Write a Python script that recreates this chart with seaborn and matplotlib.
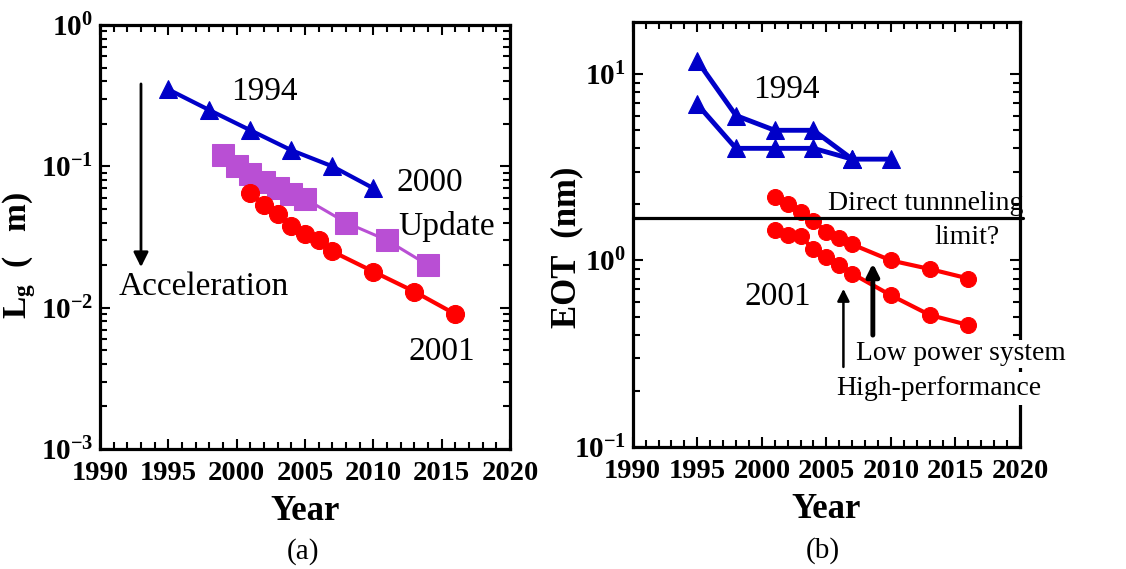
import matplotlib
matplotlib.use("Agg")
import matplotlib.pyplot as plt
from matplotlib.ticker import MultipleLocator, LogLocator, NullFormatter, FixedLocator, FixedFormatter
import seaborn as sns

# ---- (a) gate length roadmaps ----
years_lg_1994 = [1995, 1998, 2001, 2004, 2007, 2010]
lg_1994 = [0.35, 0.25, 0.18, 0.13, 0.10, 0.07]

years_lg_2000 = [1999, 2000, 2001, 2002, 2003, 2004, 2005, 2008, 2011, 2014]
lg_2000 = [0.12, 0.10, 0.088, 0.078, 0.070, 0.064, 0.059, 0.040, 0.030, 0.020]

years_lg_2001 = [2001, 2002, 2003, 2004, 2005, 2006, 2007, 2010, 2013, 2016]
lg_2001 = [0.065, 0.053, 0.046, 0.038, 0.033, 0.030, 0.025, 0.018, 0.013, 0.009]

# ---- (b) equivalent oxide thickness roadmaps ----
years_eot_1994_a = [1995, 1998, 2001, 2004, 2007, 2010]
eot_1994_a = [11.8, 6.0, 5.0, 5.0, 3.5, 3.5]
years_eot_1994_b = [1995, 1998, 2001, 2004, 2007]
eot_1994_b = [6.9, 4.0, 4.0, 4.0, 3.5]

years_eot_2001 = [2001, 2002, 2003, 2004, 2005, 2006, 2007, 2010, 2013, 2016]
eot_2001_lowpower = [2.2, 2.0, 1.83, 1.63, 1.43, 1.32, 1.22, 1.0, 0.9, 0.8]
eot_2001_highperf = [1.45, 1.37, 1.35, 1.15, 1.05, 0.95, 0.85, 0.65, 0.51, 0.45]

tunneling_limit = 1.7

year_ticks = [1990, 1995, 2000, 2005, 2010, 2015, 2020]

BLUE = "#0000C8"
PURPLE = "#B94FD4"
RED = "#FF0000"

sns.set_style("ticks")
plt.rcParams["font.family"] = ["Liberation Serif", "DejaVu Serif"]
plt.rcParams["mathtext.fontset"] = "custom"
plt.rcParams["mathtext.rm"] = "Liberation Serif"
plt.rcParams["mathtext.bf"] = "Liberation Serif:bold"
plt.rcParams["mathtext.it"] = "Liberation Serif:italic"
for key in ("text.color", "axes.labelcolor", "xtick.color", "ytick.color",
            "axes.edgecolor"):
    plt.rcParams[key] = "black"

fig = plt.figure(figsize=(11.26, 5.69), dpi=100)
ax_a = fig.add_axes([0.0888, 0.2109, 0.3641, 0.7452])
ax_b = fig.add_axes([0.5619, 0.2149, 0.3440, 0.7459])


def style_axes(ax, ylim, ydecades):
    ax.set_xlim(1990, 2020)
    ax.set_yscale("log")
    ax.set_ylim(*ylim)
    ax.xaxis.set_major_locator(FixedLocator(year_ticks))
    ax.xaxis.set_major_formatter(FixedFormatter([str(y) for y in year_ticks]))
    ax.xaxis.set_minor_locator(MultipleLocator(1))
    ax.yaxis.set_major_locator(FixedLocator([10.0 ** d for d in ydecades]))
    ax.yaxis.set_major_formatter(
        FixedFormatter([r"$\mathbf{10^{%d}}$" % d for d in ydecades]))
    ax.yaxis.set_minor_locator(LogLocator(base=10, subs=range(2, 10), numticks=20))
    ax.yaxis.set_minor_formatter(NullFormatter())
    for s in ax.spines.values():
        s.set_linewidth(2.3)
        s.set_color("black")
        s.set_visible(True)
    ax.tick_params(which="both", direction="in", top=True, right=True,
                   color="black", width=1.5)
    ax.tick_params(which="major", length=7.5)
    ax.tick_params(which="minor", length=5)
    ax.tick_params(axis="x", which="major", labelsize=20.5, pad=9)
    ax.tick_params(axis="y", which="major", labelsize=21, pad=5)
    for lab in ax.get_xticklabels():
        lab.set_fontweight("bold")
    ax.set_xlabel("Year", fontsize=25, fontweight="bold", labelpad=6)


def series(ax, x, y, color, marker, ms, lw):
    sns.lineplot(x=x, y=y, ax=ax, color=color, marker=marker, markersize=ms,
                 markeredgecolor=color, linewidth=lw, estimator=None, sort=False,
                 zorder=3)


# panel (a)
series(ax_a, years_lg_1994, lg_1994, BLUE, "^", 13, 3)
series(ax_a, years_lg_2000, lg_2000, PURPLE, "s", 16, 2.2)
series(ax_a, years_lg_2001, lg_2001, RED, "o", 13, 3)
style_axes(ax_a, (1e-3, 1e0), [-3, -2, -1, 0])
ax_a.set_ylabel(r"$\mathbf{L_g}$  (   m)", fontsize=24, fontweight="bold")
ax_a.yaxis.set_label_coords(-0.151, 0.458)

txt_a = dict(transform=ax_a.transAxes, fontsize=24, ha="center", va="center")
ax_a.text(0.402, 0.842, "1994", **txt_a)
ax_a.text(0.805, 0.627, "2000", **txt_a)
ax_a.text(0.846, 0.524, "Update", **txt_a)
ax_a.text(0.254, 0.382, "Acceleration", **txt_a)
ax_a.text(0.834, 0.229, "2001", **txt_a)
ax_a.annotate("", xy=(0.100, 0.429), xytext=(0.100, 0.861),
              xycoords="axes fraction", textcoords="axes fraction",
              arrowprops=dict(arrowstyle="-|>", color="black", lw=2,
                              mutation_scale=22, shrinkA=0, shrinkB=0))
fig.text(0.269, 0.030, "(a)", fontsize=21, ha="center", va="center")

# panel (b)
series(ax_b, years_eot_1994_a, eot_1994_a, BLUE, "^", 12.5, 3.5)
series(ax_b, years_eot_1994_b, eot_1994_b, BLUE, "^", 12.5, 3.5)
series(ax_b, years_eot_2001, eot_2001_lowpower, RED, "o", 11.5, 3)
series(ax_b, years_eot_2001, eot_2001_highperf, RED, "o", 11.5, 3)
style_axes(ax_b, (0.1, 19), [-1, 0, 1])
ax_b.axhline(tunneling_limit, xmin=0, xmax=1.007, color="black", lw=2.3,
             clip_on=False, zorder=4)
ax_b.set_ylabel("EOT  (nm)", fontsize=25, fontweight="bold")
ax_b.yaxis.set_label_coords(-0.128, 0.47)

txt_b = dict(transform=ax_b.transAxes, va="center")
ax_b.text(0.398, 0.840, "1994", fontsize=24, ha="center", **txt_b)
ax_b.text(0.375, 0.353, "2001", fontsize=24, ha="center", **txt_b)
ax_b.text(0.504, 0.574, "Direct tunnneling", fontsize=20, ha="left", **txt_b)
ax_b.text(0.946, 0.492, "limit?", fontsize=20, ha="right", **txt_b)
ax_b.text(0.577, 0.219, "Low power system", fontsize=19.8, ha="left", zorder=5,
          clip_on=False, bbox=dict(facecolor="white", edgecolor="none", pad=1),
          **txt_b)
ax_b.text(0.525, 0.137, "High-performance", fontsize=20, ha="left", zorder=5,
          clip_on=False, bbox=dict(facecolor="white", edgecolor="none", pad=3),
          **txt_b)
ax_b.annotate("", xy=(0.544, 0.372), xytext=(0.544, 0.188),
              xycoords="axes fraction", textcoords="axes fraction",
              arrowprops=dict(arrowstyle="-|>", color="black", lw=1.8,
                              mutation_scale=18, shrinkA=0, shrinkB=0))
ax_b.annotate("", xy=(0.620, 0.432), xytext=(0.620, 0.263),
              xycoords="axes fraction", textcoords="axes fraction",
              arrowprops=dict(arrowstyle="-|>", color="black", lw=3.5,
                              mutation_scale=18, shrinkA=0, shrinkB=0))
fig.text(0.731, 0.033, "(b)", fontsize=21, ha="center", va="center")

fig.savefig("out.png", dpi=100)
